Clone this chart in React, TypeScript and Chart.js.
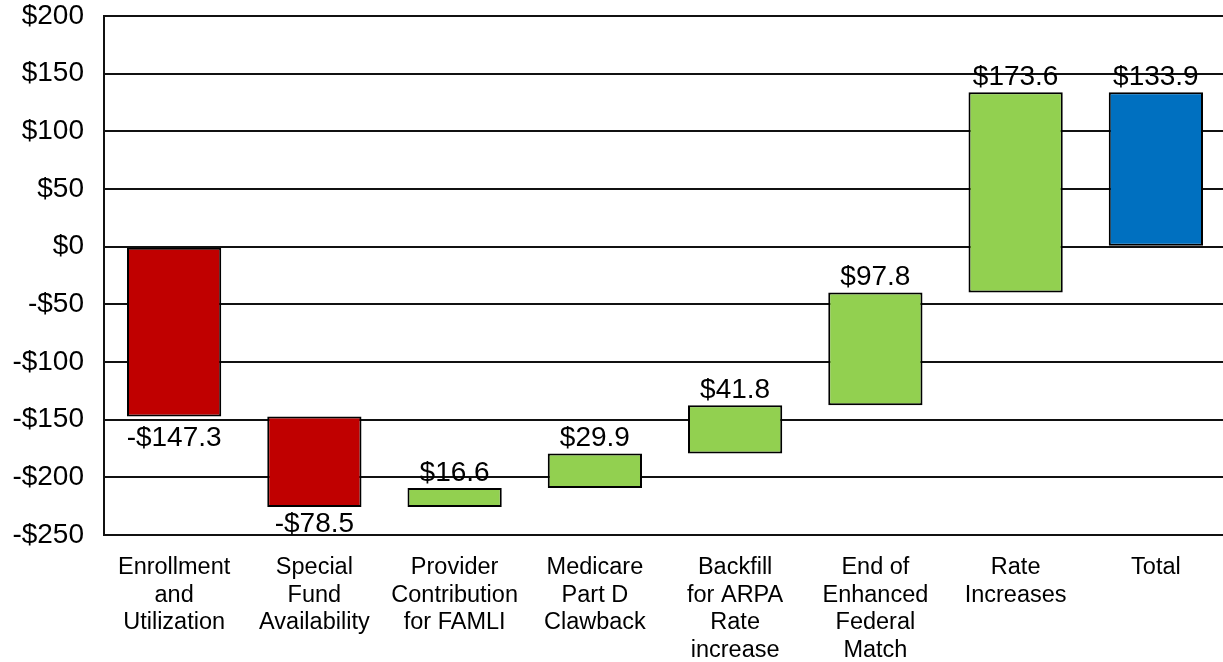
import React, { useEffect, useRef } from 'react';
import { Chart, registerables } from 'chart.js';

Chart.register(...registerables);

const categories: string[][] = [
  ['Enrollment', 'and', 'Utilization'],
  ['Special', 'Fund', 'Availability'],
  ['Provider', 'Contribution', 'for FAMLI'],
  ['Medicare', 'Part D', 'Clawback'],
  ['Backfill', 'for ARPA', 'Rate', 'increase'],
  ['End of', 'Enhanced', 'Federal', 'Match'],
  ['Rate', 'Increases'],
  ['Total'],
];
const changes = [-147.3, -78.5, 16.6, 29.9, 41.8, 97.8, 173.6];
const total = 133.9;
const yMin = -250;
const yMax = 200;
const yStep = 50;

const RED = '#C00000';
const GREEN = '#92D050';
const BLUE = '#0070C0';
const FONT = '"Liberation Sans", Arial, sans-serif';

const fmt = (v: number) => (v < 0 ? '-$' + Math.abs(v).toFixed(1) : '$' + v.toFixed(1));
const fmtTick = (v: number) => (v < 0 ? '-$' + Math.abs(v) : '$' + v);

function buildData() {
  const ranges: [number, number][] = [];
  const colors: string[] = [];
  let run = 0;
  changes.forEach((c) => {
    ranges.push([run, run + c]);
    colors.push(c < 0 ? RED : GREEN);
    run += c;
  });
  ranges.push([0, total]);
  colors.push(BLUE);
  const labels = [...changes, total];
  return { ranges, colors, labels };
}

export default function App() {
  const ref = useRef<HTMLCanvasElement | null>(null);
  useEffect(() => {
    if (!ref.current) return;
    const { ranges, colors, labels } = buildData();
    const labelPlugin = {
      id: 'wfLabels',
      afterDatasetsDraw(chart: any) {
        const ctx = chart.ctx;
        const meta = chart.getDatasetMeta(0);
        ctx.save();
        ctx.font = '28px ' + FONT;
        ctx.fillStyle = '#000';
        ctx.textAlign = 'center';
        ctx.textBaseline = 'alphabetic';
        meta.data.forEach((el: any, i: number) => {
          const p = el.getProps(['x', 'y', 'base'], true);
          const top = Math.min(p.y, p.base);
          const bottom = Math.max(p.y, p.base);
          const v = labels[i];
          const ty = v < 0 ? Math.min(bottom + 29, chart.chartArea.bottom - 3) : top - 7;
          ctx.fillText(fmt(v), p.x, ty);
        });
        ctx.restore();
      },
    };
    const chart = new Chart(ref.current, {
      type: 'bar',
      data: {
        labels: categories,
        datasets: [
          {
            data: ranges as any,
            backgroundColor: colors,
            borderColor: '#000',
            borderWidth: 2,
            borderSkipped: false,
            barPercentage: 0.672,
            categoryPercentage: 1,
          },
        ],
      },
      options: {
        animation: false,
        responsive: true,
        maintainAspectRatio: false,
        layout: { padding: { top: 0, left: 0, right: 0, bottom: 0 } },
        plugins: { legend: { display: false }, tooltip: { enabled: false } },
        scales: {
          x: {
            grid: { display: false, drawTicks: false },
            border: { display: false },
            ticks: {
              color: '#000',
              font: { family: FONT, size: 23.5, lineHeight: 1.17 },
              padding: 19,
              maxRotation: 0,
              autoSkip: false,
            },
            afterFit: (s: any) => {
              s.height = 127;
              s.paddingLeft = 0;
              s.paddingRight = 0;
            },
          },
          y: {
            min: yMin,
            max: yMax,
            grid: { color: '#111', lineWidth: 2, drawTicks: false },
            border: { display: true, color: '#111', width: 2 },
            ticks: {
              stepSize: yStep,
              color: '#000',
              font: { family: FONT, size: 28 },
              padding: 20,
              callback: (v: any) => fmtTick(Number(v)),
            },
            afterFit: (s: any) => {
              s.width = 104;
              s.paddingTop = 16;
              s.paddingBottom = 0;
            },
          },
        },
      },
      plugins: [labelPlugin],
    });
    return () => chart.destroy();
  }, []);
  return (
    <div style={{ position: 'fixed', left: 0, top: 0, width: 1223, height: 662, overflow: 'hidden', background: '#fff' }}>
      <div style={{ position: 'relative', width: 1226, height: 662 }}>
        <canvas ref={ref} />
      </div>
    </div>
  );
}
